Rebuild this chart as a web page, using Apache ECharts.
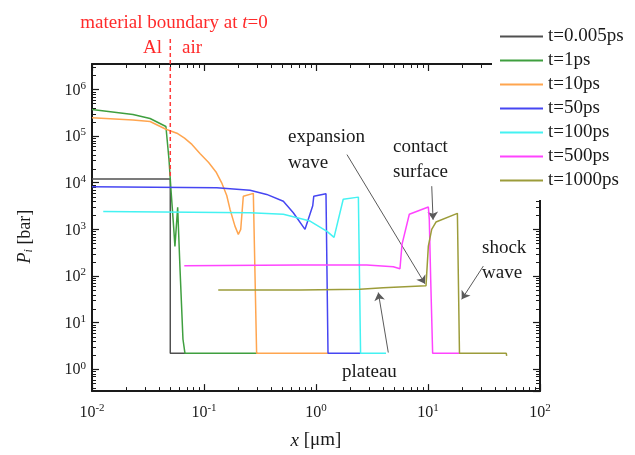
<!DOCTYPE html>
<html>
<head>
<meta charset="UTF-8">
<title>P_i vs x</title>
<script src="https://cdn.jsdelivr.net/npm/echarts@6/dist/echarts.min.js"></script>
<style>
html,body{margin:0;padding:0;background:#fff}
#main{width:635px;height:455px}
</style>
</head>
<body>
<div id="main"></div>
<script type="text/javascript">
var seriesNames = ['t=0.005ps','t=1ps','t=10ps','t=50ps','t=100ps','t=500ps','t=1000ps'];
var seriesColors = ['#505050','#3f9f3f','#ffa54f','#4646f2','#44f2f2','#ff44ff','#9c9c3a'];

// [x in um, P_i in bar]
var t0005 = [[0.01,1.2e4],[0.05,1.2e4],[0.05,2.2],[0.068,2.2]];
var t1 = [[0.01,3.7e5],[0.0232,2.9e5],[0.033,2.37e5],[0.0457,1.6e5],[0.0487,3.1e4],[0.0507,7.1e3],
  [0.0536,1.1e3],[0.055,430],[0.0582,2950],[0.0611,138],[0.0649,4.4],[0.0676,2.2],[0.3,2.2]];
var t10 = [[0.01,2.45e5],[0.0232,2.2e5],[0.033,2.05e5],[0.0457,1.4e5],[0.0573,1.15e5],[0.067,9.0e4],
  [0.078,6.6e4],[0.092,4.2e4],[0.110,2.7e4],[0.128,1.7e4],[0.145,9.5e3],[0.1596,5.3e3],
  [0.1706,2.7e3],[0.189,1.17e3],[0.2025,780],[0.2128,1000],
  [0.2244,5.1e3],[0.2757,5.9e3],[0.295,2.2],[1.3,2.2]];
var t50 = [[0.01,8.2e3],[0.130,7.8e3],[0.2576,6.9e3],[0.363,5.6e3],[0.511,4.0e3],[0.627,2.27e3],
  [0.798,1.0e3],[0.935,3.2e3],[0.955,5.1e3],[1.228,5.8e3],[1.28,2.2],[2.5,2.2]];
var t100 = [[0.0126,2.4e3],[0.2576,2.27e3],[0.511,2.1e3],[0.884,1.5e3],[1.254,900],[1.449,670],
  [1.75,4.4e3],[2.39,4.9e3],[2.5,2.2],[4.22,2.2]];
var t500 = [[0.0667,165],[0.719,171],[2.84,171],[4.9,158],[5.62,143],[5.86,475],[6.81,2.1e3],
  [10.07,3.0e3],[10.27,1.63e3],[10.57,85],[11.0,2.2],[19.3,2.2]];
var t1000 = [[0.134,50],[0.719,50],[2.47,52],[3.99,56],[9.6,62],[10.07,437],[10.79,1.0e3],
  [11.78,1.43e3],[18.3,2.2e3],[19.1,2.2],[50,2.2],[50.4,1.93]];
var seriesData = [t0005,t1,t10,t50,t100,t500,t1000];

var boundary = [[0.05,1.2e7],[0.05,1.2e4]];

// arrows: [from, to]
var arrows = [
  [[1.89,4.0e4],[9.4,68]],    // expansion wave
  [[10.8,8.4e3],[11.1,1.6e3]], // contact surface
  [[31.2,163],[20.0,31.5]],   // shock wave
  [[4.42,2.28],[3.6,44]]      // plateau
];

var xTickDecades = [-2,-1,0,1];
var yTickDecades = [-1,0,1,2,3,4,5,6];
var xMin = 0.01, xMax = 100, yMin = 0.34, yMax = 3.5e6;

var xMinor = [], yMinor = [];
xTickDecades.forEach(function(d){
  for (var k = 2; k <= 9; k++) xMinor.push(k*Math.pow(10,d));
});
yTickDecades.forEach(function(d){
  for (var k = 2; k <= 9; k++) {
    var v = k*Math.pow(10,d);
    if (v > yMin && v < yMax) yMinor.push(v);
  }
});

var serif = 'Liberation Serif';
var ink = '#1a1a1a';
var red = '#ff2a2a';

function pow10(v){
  var l = Math.log10(v), e = Math.round(l);
  if (Math.abs(l-e) > 1e-6) return '';
  return '{b|10}{s|' + e + '}';
}
var tickRich = {
  b:{fontFamily:serif,fontSize:16,color:ink,lineHeight:18,verticalAlign:'bottom'},
  s:{fontFamily:serif,fontSize:11,color:ink,lineHeight:11,verticalAlign:'top',padding:[0,0,12,0]}
};

function axisCommon(extra){
  var a = {
    type:'log',
    axisLine:{show:true,onZero:false,lineStyle:{color:ink,width:2}},
    axisTick:{show:true,inside:true,length:7,lineStyle:{color:ink,width:1.2}},
    splitLine:{show:false},
    minorTick:{show:false},
    axisLabel:{show:false}
  };
  for (var k in extra) a[k] = extra[k];
  return a;
}

var series = seriesNames.map(function(n,i){
  return {
    name:n, type:'line', data:seriesData[i], symbol:'none', smooth:false,
    lineStyle:{color:seriesColors[i],width:1.5}, itemStyle:{color:seriesColors[i]},
    z:3+i, emphasis:{disabled:true}
  };
});
series[6].markLine = {
  silent:true, animation:false,
  symbol:['none','arrow'], symbolSize:8,
  lineStyle:{color:'#5a5a5a',width:1,type:'solid'},
  itemStyle:{color:'#5a5a5a'},
  label:{show:false},
  emphasis:{disabled:true},
  data:arrows.map(function(a){ return [{coord:a[0]},{coord:a[1]}]; })
};
series.push({
  name:'boundary', type:'line', data:boundary, symbol:'none', clip:false, z:10,
  lineStyle:{color:'#ff3b3b',width:1.5,type:[4,3]}, emphasis:{disabled:true}
});

function label(id, x, y, text, align, vAlign, lh, color){
  return {type:'text', id:id, x:x, y:y, z:20, style:{
    text:text, textAlign:align, textVerticalAlign:vAlign,
    font:'19px "Liberation Serif"', lineHeight:lh, fill:color}};
}

var myChart = echarts.init(document.getElementById('main'));
var option = {
  animation:false,
  backgroundColor:'#fff',
  grid:{left:92,right:95,top:64,bottom:63},
  legend:{
    data:seriesNames, orient:'vertical', left:492, top:17,
    padding:[10,10,10,8], backgroundColor:'#fff',
    icon:'rect', itemWidth:43, itemHeight:2, itemGap:5,
    textStyle:{fontFamily:serif,fontSize:19,color:ink,lineHeight:19},
    selectedMode:false, z:10
  },
  xAxis:[
    axisCommon({min:xMin,max:xMax,position:'bottom',
      axisLabel:{show:true,formatter:pow10,rich:tickRich,margin:12,showMinLabel:true,showMaxLabel:true},
      name:'{i|x}{r| [\u03bcm]}', nameLocation:'middle', nameGap:38,
      nameTextStyle:{rich:{
        i:{fontFamily:serif,fontStyle:'italic',fontSize:19,color:ink},
        r:{fontFamily:serif,fontSize:19,color:ink}}}
    }),
    axisCommon({min:xMin,max:xMax,position:'top'})
  ],
  yAxis:[
    axisCommon({min:yMin,max:yMax,position:'left',
      axisLabel:{show:true,formatter:pow10,rich:tickRich,margin:6,showMinLabel:false,showMaxLabel:false},
      name:'{i|P}{sub|i}{r| [bar]}', nameLocation:'middle', nameGap:57, nameRotate:90,
      nameTextStyle:{padding:[0,18,0,0],rich:{
        i:{fontFamily:serif,fontStyle:'italic',fontSize:18,color:ink,lineHeight:20},
        sub:{fontFamily:serif,fontStyle:'italic',fontSize:12,color:ink,lineHeight:12,verticalAlign:'bottom',padding:[10,0,0,0]},
        r:{fontFamily:serif,fontSize:18,color:ink,lineHeight:20}}}
    }),
    axisCommon({min:yMin,max:yMax,position:'right'})
  ],
  graphic:[
    {type:'text',id:'title',x:174,y:23,z:20,style:{
      text:'{r|material boundary at }{i|t}{r|=0}', textAlign:'center', textVerticalAlign:'middle',
      rich:{r:{fontFamily:serif,fontSize:19,fill:red},i:{fontFamily:serif,fontStyle:'italic',fontSize:19,fill:red}}}},
    label('al',162,48,'Al','right','middle',19,red),
    label('air',182,48,'air','left','middle',19,red),
    label('exp',288,124,'expansion\nwave','left','top',26,ink),
    label('con',393,135,'contact\nsurface','left','top',25,ink),
    label('shk',482,236,'shock\nwave','left','top',25,ink),
    label('pla',342,372,'plateau','left','middle',19,ink)
  ],
  series:series
};
myChart.setOption(option);

// minor log ticks on all four sides, placed through the axes' own scales
var gxL = myChart.convertToPixel({xAxisIndex:0}, xMin);
var gxR = myChart.convertToPixel({xAxisIndex:0}, xMax);
var gyB = myChart.convertToPixel({yAxisIndex:0}, yMin);
var gyT = myChart.convertToPixel({yAxisIndex:0}, yMax);
var tickStyle = {stroke:ink, lineWidth:1};
var minorEls = [];
xMinor.forEach(function(v, i){
  var px = Math.round(myChart.convertToPixel({xAxisIndex:0}, v)) + 0.5;
  minorEls.push({type:'line', id:'xb'+i, z:1, silent:true, shape:{x1:px,y1:gyB,x2:px,y2:gyB-4}, style:tickStyle});
  minorEls.push({type:'line', id:'xt'+i, z:1, silent:true, shape:{x1:px,y1:gyT,x2:px,y2:gyT+4}, style:tickStyle});
});
yMinor.forEach(function(v, i){
  var py = Math.round(myChart.convertToPixel({yAxisIndex:0}, v)) + 0.5;
  minorEls.push({type:'line', id:'yl'+i, z:1, silent:true, shape:{x1:gxL,y1:py,x2:gxL+4,y2:py}, style:tickStyle});
  minorEls.push({type:'line', id:'yr'+i, z:1, silent:true, shape:{x1:gxR,y1:py,x2:gxR-4,y2:py}, style:tickStyle});
});
myChart.setOption({graphic:minorEls});
</script>
</body>
</html>
